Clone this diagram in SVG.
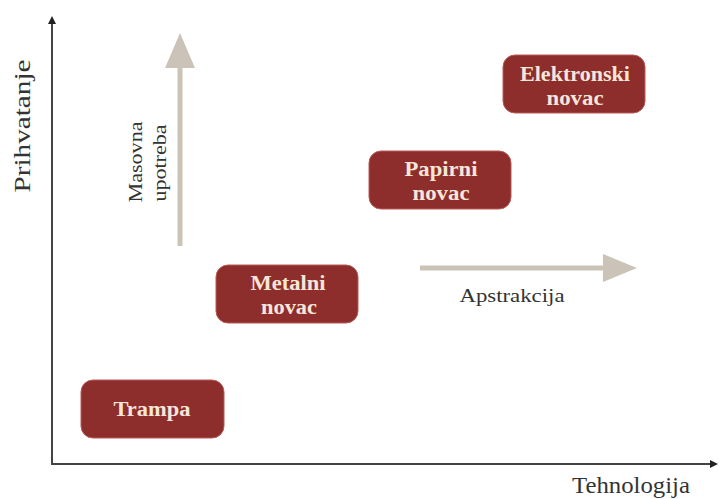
<svg xmlns="http://www.w3.org/2000/svg" width="722" height="499" viewBox="0 0 722 499">
<style>
.box{fill:#8e2e2c;stroke:#b85a55;stroke-width:1}
.bt{font-family:'Liberation Serif','Times New Roman','DejaVu Serif',serif;font-weight:bold;font-size:20px;fill:#f6e6da;text-anchor:middle}
.lbl{font-family:'Liberation Serif','Times New Roman','DejaVu Serif',serif;fill:#333;text-anchor:middle}
.axis{stroke:#444;stroke-width:2;fill:none}
.big{stroke:#cbc3b8;stroke-width:5;fill:none}
</style>
<defs>
<marker id="ah" markerWidth="8" markerHeight="8" refX="6" refY="4" orient="auto" markerUnits="userSpaceOnUse">
<path d="M0,0 L8,4 L0,8 Z" fill="#222"/>
</marker>
</defs>
<g id="connectors">
<line class="axis" x1="52" y1="464" x2="52" y2="18" marker-end="url(#ah)"/>
<line class="axis" x1="51" y1="464" x2="716" y2="464" marker-end="url(#ah)"/>
<line class="big" x1="180" y1="246" x2="180" y2="64"/>
<polygon points="180,33 195,68 165,68" fill="#cbc3b8"/>
<line class="big" x1="420" y1="268" x2="606" y2="268"/>
<polygon points="637,268 603,254 603,282" fill="#cbc3b8"/>
</g>
<g id="axis-labels">
<text class="lbl" font-size="24" textLength="133" lengthAdjust="spacingAndGlyphs" transform="translate(30,126) rotate(-90)">Prihvatanje</text>
<text class="lbl" font-size="23" textLength="118" lengthAdjust="spacingAndGlyphs" x="631" y="493">Tehnologija</text>
<text class="lbl" font-size="19" textLength="81" lengthAdjust="spacingAndGlyphs" transform="translate(142,162) rotate(-90)">Masovna</text>
<text class="lbl" font-size="19" textLength="77" lengthAdjust="spacingAndGlyphs" transform="translate(166,163) rotate(-90)">upotreba</text>
<text class="lbl" font-size="19" textLength="105" lengthAdjust="spacingAndGlyphs" x="512" y="302">Apstrakcija</text>
</g>
<g id="trampa">
<rect class="box" x="81" y="380" width="143" height="58" rx="12"/>
<text class="bt" x="152" y="416" textLength="77" lengthAdjust="spacingAndGlyphs">Trampa</text>
</g>
<g id="metalni">
<rect class="box" x="216" y="265" width="142" height="58" rx="12"/>
<text class="bt" x="288" y="290" textLength="75" lengthAdjust="spacingAndGlyphs">Metalni</text>
<text class="bt" x="289" y="314" textLength="56" lengthAdjust="spacingAndGlyphs">novac</text>
</g>
<g id="papirni">
<rect class="box" x="369" y="151" width="142" height="58" rx="12"/>
<text class="bt" x="441" y="176" textLength="73" lengthAdjust="spacingAndGlyphs">Papirni</text>
<text class="bt" x="441" y="200" textLength="57" lengthAdjust="spacingAndGlyphs">novac</text>
</g>
<g id="elektronski">
<rect class="box" x="503" y="55" width="142" height="58" rx="12"/>
<text class="bt" x="575" y="81" textLength="110" lengthAdjust="spacingAndGlyphs">Elektronski</text>
<text class="bt" x="575" y="105" textLength="57" lengthAdjust="spacingAndGlyphs">novac</text>
</g>
</svg>
